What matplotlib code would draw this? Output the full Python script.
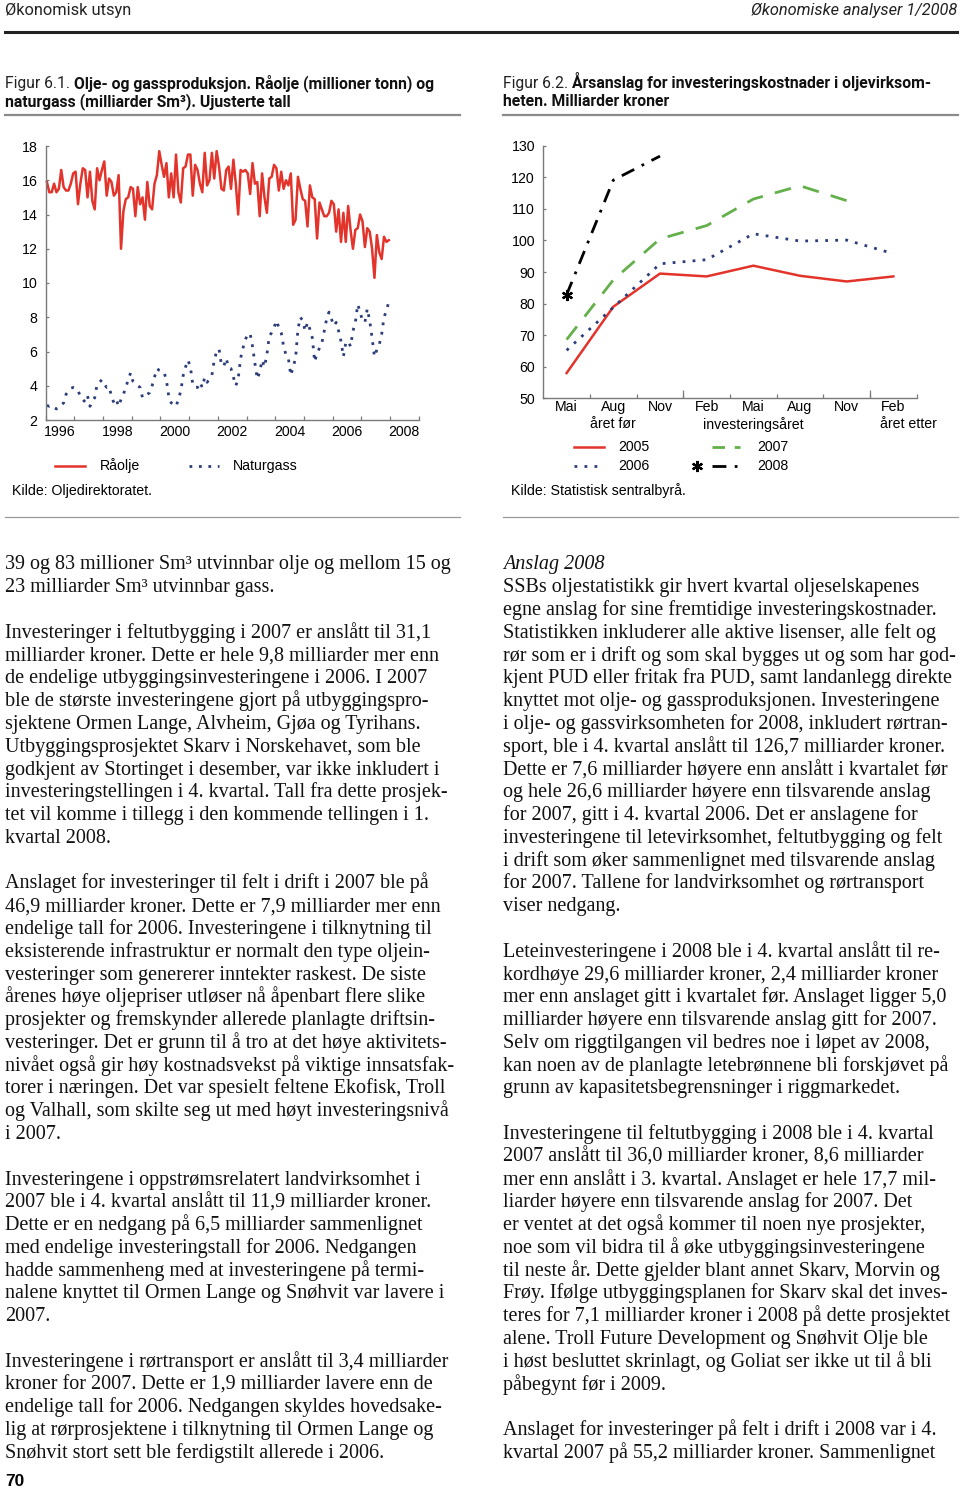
import matplotlib
matplotlib.use('Agg')
import matplotlib.pyplot as plt
from matplotlib import font_manager
from matplotlib.lines import Line2D
import numpy as np

# ---------------- data ----------------
year_labels = ['1996', '1998', '2000', '2002', '2004', '2006', '2008']
first_year = 1996
oil = [15.9, 15.3, 15.3, 15.8, 15.3, 15.5, 16.6, 15.6, 15.4, 15.4, 15.8, 16.4,
       16.5, 14.6, 15.8, 16.7, 16.6, 15.0, 16.5, 14.8, 14.3, 16.7, 16.0, 16.6,
       17.1, 15.1, 16.1, 15.9, 15.1, 15.3, 16.3, 12.0, 14.2, 14.9, 15.0, 15.6,
       15.5, 13.9, 15.6, 14.6, 15.0, 13.7, 15.9, 14.5, 14.3, 15.8, 16.3, 17.7,
       16.9, 16.2, 17.0, 15.0, 16.4, 15.0, 17.5, 15.3, 14.7, 16.7, 16.8, 17.5,
       17.5, 15.1, 16.9, 16.6, 15.8, 15.3, 17.6, 15.7, 16.0, 17.6, 16.1, 17.7,
       16.8, 15.5, 15.4, 16.6, 16.8, 15.5, 17.2, 15.8, 14.0, 16.6, 16.5, 16.6,
       16.4, 15.2, 17.0, 15.8, 15.9, 13.9, 16.4, 15.0, 14.1, 16.1, 16.2, 16.9,
       16.7, 15.4, 16.5, 15.5, 16.0, 15.7, 16.4, 13.4, 13.7, 16.2, 15.5, 14.9,
       14.8, 13.3, 15.7, 15.0, 14.9, 12.6, 14.7, 14.3, 13.9, 13.9, 14.1, 14.8,
       14.6, 13.0, 14.3, 12.4, 14.1, 12.4, 14.5, 13.1, 12.0, 13.1, 13.2, 14.0,
       13.6, 12.1, 13.2, 13.0, 12.0, 10.3, 12.8, 11.8, 11.4, 12.7, 12.4, 12.5]
gas = [2.85, 2.8, 2.85, 2.7, 2.65, 2.7, 2.85, 3.0, 3.5, 3.7, 3.85, 3.9,
       3.85, 3.75, 3.35, 3.2, 3.05, 3.4, 2.8, 3.1, 3.3, 4.1, 4.2, 4.35,
       4.1, 3.9, 3.95, 3.4, 3.0, 3.2, 2.8, 3.2, 3.5, 3.9, 4.35, 4.75,
       4.25, 4.1, 4.0, 3.9, 3.3, 3.4, 3.5, 3.6, 4.0, 4.5, 5.0, 4.9,
       4.85, 4.8, 4.3, 3.35, 3.0, 2.9, 2.8, 3.2, 3.7, 4.6, 5.1, 5.5,
       5.1, 4.1, 3.9, 3.9, 4.2, 3.9, 4.5, 4.2, 4.4, 4.6, 5.5, 6.0,
       6.15, 5.2, 5.15, 5.6, 5.05, 5.0, 4.5, 4.0, 4.4, 5.6, 6.2, 6.7,
       7.0, 7.05, 6.3, 5.3, 4.4, 4.8, 5.5, 5.1, 5.8, 6.9, 7.1, 7.4,
       7.8, 7.4, 7.1, 6.3, 5.8, 5.6, 4.6, 5.1, 5.6, 7.3, 8.0, 7.8,
       7.2, 7.7, 7.3, 6.8, 5.4, 5.9, 6.2, 6.5, 7.2, 7.9, 8.3, 7.9,
       7.5, 7.7, 7.2, 6.6, 5.7, 6.5, 6.6, 6.3, 7.2, 7.7, 8.75, 8.3,
       7.8, 7.7, 8.5, 7.8, 6.8, 5.7, 6.1, 6.4, 7.0, 8.0, 8.4, 8.9]

periods = ['Mai', 'Aug', 'Nov', 'Feb', 'Mai', 'Aug', 'Nov', 'Feb']
period_groups = {1: 'året før', 4: 'investeringsåret', 7: 'året etter'}
inv2005 = [58.0, 79.0, 89.5, 88.6, 92.0, 88.8, 87.0, 88.6]
inv2006 = [65.2, 78.8, 92.6, 93.9, 102.1, 99.8, 100.1, 95.8]
inv2007 = [68.6, 87.5, 100.5, 104.7, 113.1, 117.3, 112.6]
inv2008 = [82.8, 119.1, 126.7]

left_lines = [
    "39 og 83 millioner Sm³ utvinnbar olje og mellom 15 og",
    "23 milliarder Sm³ utvinnbar gass.",
    "",
    "Investeringer i feltutbygging i 2007 er anslått til 31,1",
    "milliarder kroner. Dette er hele 9,8 milliarder mer enn",
    "de endelige utbyggingsinvesteringene i 2006. I 2007",
    "ble de største investeringene gjort på utbyggingspro-",
    "sjektene Ormen Lange, Alvheim, Gjøa og Tyrihans.",
    "Utbyggingsprosjektet Skarv i Norskehavet, som ble",
    "godkjent av Stortinget i desember, var ikke inkludert i",
    "investeringstellingen i 4. kvartal. Tall fra dette prosjek-",
    "tet vil komme i tillegg i den kommende tellingen i 1.",
    "kvartal 2008.",
    "",
    "Anslaget for investeringer til felt i drift i 2007 ble på",
    "46,9 milliarder kroner. Dette er 7,9 milliarder mer enn",
    "endelige tall for 2006. Investeringene i tilknytning til",
    "eksisterende infrastruktur er normalt den type oljein-",
    "vesteringer som genererer inntekter raskest. De siste",
    "årenes høye oljepriser utløser nå åpenbart flere slike",
    "prosjekter og fremskynder allerede planlagte driftsin-",
    "vesteringer. Det er grunn til å tro at det høye aktivitets-",
    "nivået også gir høy kostnadsvekst på viktige innsatsfak-",
    "torer i næringen. Det var spesielt feltene Ekofisk, Troll",
    "og Valhall, som skilte seg ut med høyt investeringsnivå",
    "i 2007.",
    "",
    "Investeringene i oppstrømsrelatert landvirksomhet i",
    "2007 ble i 4. kvartal anslått til 11,9 milliarder kroner.",
    "Dette er en nedgang på 6,5 milliarder sammenlignet",
    "med endelige investeringstall for 2006. Nedgangen",
    "hadde sammenheng med at investeringene på termi-",
    "nalene knyttet til Ormen Lange og Snøhvit var lavere i",
    "2007.",
    "",
    "Investeringene i rørtransport er anslått til 3,4 milliarder",
    "kroner for 2007. Dette er 1,9 milliarder lavere enn de",
    "endelige tall for 2006. Nedgangen skyldes hovedsake-",
    "lig at rørprosjektene i tilknytning til Ormen Lange og",
    "Snøhvit stort sett ble ferdigstilt allerede i 2006.",
]
right_lines = [
    "Anslag 2008",
    "SSBs oljestatistikk gir hvert kvartal oljeselskapenes",
    "egne anslag for sine fremtidige investeringskostnader.",
    "Statistikken inkluderer alle aktive lisenser, alle felt og",
    "rør som er i drift og som skal bygges ut og som har god-",
    "kjent PUD eller fritak fra PUD, samt landanlegg direkte",
    "knyttet mot olje- og gassproduksjonen. Investeringene",
    "i olje- og gassvirksomheten for 2008, inkludert rørtran-",
    "sport, ble i 4. kvartal anslått til 126,7 milliarder kroner.",
    "Dette er 7,6 milliarder høyere enn anslått i kvartalet før",
    "og hele 26,6 milliarder høyere enn tilsvarende anslag",
    "for 2007, gitt i 4. kvartal 2006. Det er anslagene for",
    "investeringene til letevirksomhet, feltutbygging og felt",
    "i drift som øker sammenlignet med tilsvarende anslag",
    "for 2007. Tallene for landvirksomhet og rørtransport",
    "viser nedgang.",
    "",
    "Leteinvesteringene i 2008 ble i 4. kvartal anslått til re-",
    "kordhøye 29,6 milliarder kroner, 2,4 milliarder kroner",
    "mer enn anslaget gitt i kvartalet før. Anslaget ligger 5,0",
    "milliarder høyere enn tilsvarende anslag gitt for 2007.",
    "Selv om riggtilgangen vil bedres noe i løpet av 2008,",
    "kan noen av de planlagte letebrønnene bli forskjøvet på",
    "grunn av kapasitetsbegrensninger i riggmarkedet.",
    "",
    "Investeringene til feltutbygging i 2008 ble i 4. kvartal",
    "2007 anslått til 36,0 milliarder kroner, 8,6 milliarder",
    "mer enn anslått i 3. kvartal. Anslaget er hele 17,7 mil-",
    "liarder høyere enn tilsvarende anslag for 2007. Det",
    "er ventet at det også kommer til noen nye prosjekter,",
    "noe som vil bidra til å øke utbyggingsinvesteringene",
    "til neste år. Dette gjelder blant annet Skarv, Morvin og",
    "Frøy. Ifølge utbyggingsplanen for Skarv skal det inves-",
    "teres for 7,1 milliarder kroner i 2008 på dette prosjektet",
    "alene. Troll Future Development og Snøhvit Olje ble",
    "i høst besluttet skrinlagt, og Goliat ser ikke ut til å bli",
    "påbegynt før i 2009.",
    "",
    "Anslaget for investeringer på felt i drift i 2008 var i 4.",
    "kvartal 2007 på 55,2 milliarder kroner. Sammenlignet",
]

# ---------------- fonts ----------------
installed = {f.name for f in font_manager.fontManager.ttflist}
def pick(names):
    for n in names:
        if n in installed:
            return n
    return 'DejaVu Sans'
SANS = pick(['Liberation Sans', 'Arimo', 'DejaVu Sans'])
NARROW = pick(['Liberation Sans Narrow', 'Roboto', 'Open Sans', 'Liberation Sans'])
SERIF = pick(['Liberation Serif', 'DejaVu Serif'])
plt.rcParams['font.family'] = [SANS, 'DejaVu Sans']

W, H = 960, 1492
fig = plt.figure(figsize=(9.6, 14.92), dpi=100)
fig.patch.set_facecolor('white')
R = fig.canvas.get_renderer()

def fxy(x, y):
    return x / W, 1 - y / H

def twidth(s, **kw):
    t = fig.text(0, 0, s, **kw)
    w = t.get_window_extent(R).width
    t.remove()
    return w

def fit(s, target, **kw):
    return 12 * target / twidth(s, fontsize=12, **kw)

def put(x, y, s, **kw):
    return fig.text(*fxy(x, y), s, **kw)

def hline(x0, x1, y, **kw):
    fig.add_artist(Line2D([x0 / W, x1 / W], [1 - y / H] * 2,
                          transform=fig.transFigure, **kw))

# ---------------- header ----------------
hsize = fit("Økonomisk utsyn", 126, family=NARROW)
put(5, 11, "Økonomisk utsyn", family=NARROW, fontsize=hsize, va='center', color='#222')
put(957, 11, "Økonomiske analyser 1/2008", family=NARROW, style='italic',
    fontsize=hsize, va='center', ha='right', color='#222')
hline(5, 957, 32, color='#222', lw=2.2)

# captions
def caption(x, y, light, bold, size):
    t1 = put(x, y, light, family=NARROW, fontsize=size, va='baseline', color='#222')
    w1 = t1.get_window_extent(R).width
    sp = twidth("x x", family=NARROW, fontsize=size) - twidth("xx", family=NARROW, fontsize=size)
    put(x + w1 + sp, y, bold, family=NARROW, fontsize=size, weight='bold', va='baseline', color='#111')

cap_full = "Figur 6.1. Olje- og gassproduksjon. Råolje (millioner tonn) og"
csize = fit(cap_full, 430, family=NARROW, weight='bold') * 1.0
caption(5, 88, "Figur 6.1.", "Olje- og gassproduksjon. Råolje (millioner tonn) og", csize)
put(5, 106, "naturgass (milliarder Sm³). Ujusterte tall", family=NARROW, fontsize=csize,
    weight='bold', va='baseline', color='#111')
caption(503, 88, "Figur 6.2.", "Årsanslag for investeringskostnader i oljevirksom-", csize)
put(503, 106, "heten. Milliarder kroner", family=NARROW, fontsize=csize,
    weight='bold', va='baseline', color='#111')
hline(5, 460, 115, color='#8a8a8a', lw=1.6)
hline(503, 958, 115, color='#8a8a8a', lw=1.6)
hline(5, 460, 517, color='#9a9a9a', lw=0.9)
hline(503, 958, 517, color='#9a9a9a', lw=0.9)

# ---------------- chart 1 ----------------
FS = 10.2
RED = '#e3342c'
NAVY = '#2c3d7a'
GREEN = '#63b04b'
axL = fig.add_axes([45.7 / W, 1 - 420 / H, (418.7 - 45.7) / W, (420 - 146) / H])
months = first_year + (np.arange(len(oil)) + 0.5) / 12
axL.plot(months, oil, color=RED, lw=1.8, clip_on=False)
axL.plot(months, gas, color=NAVY, lw=2.0, ls=(0, (1, 2.4)), clip_on=False)
axL.set_xlim(first_year, first_year + 13)
axL.set_ylim(2, 18)
axL.set_yticks(range(2, 19, 2))
axL.set_xticks(range(first_year, first_year + 14))
axL.set_xticklabels([])
axL.set_xticks(first_year + 0.5 + 2 * np.arange(len(year_labels)), minor=True)
axL.set_xticklabels(year_labels, minor=True)

def style_axes(ax):
    for s in ['top', 'right']:
        ax.spines[s].set_visible(False)
    for s in ['left', 'bottom']:
        ax.spines[s].set_color('#7a7a7a')
        ax.spines[s].set_linewidth(1.0)
    ax.tick_params(axis='y', direction='in', length=2.5, width=0.9, color='#7a7a7a',
                   pad=6, labelsize=FS)
    ax.tick_params(axis='x', which='major', direction='in', length=3, width=0.9,
                   color='#7a7a7a', labelsize=FS)
    ax.tick_params(axis='x', which='minor', length=0, labelsize=FS)
    for t in ax.get_xticklabels(which='both') + ax.get_yticklabels():
        t.set_fontfamily(SANS)
    ax.patch.set_alpha(0)

style_axes(axL)
axL.tick_params(axis='x', which='minor', pad=3.5)

# legend 1
hline(55, 85, 466, color=RED, lw=1.8)
hline(189, 219, 466, color=NAVY, lw=2.0, ls=(0, (1, 2.4)))
put(100, 466, "Råolje", family=SANS, fontsize=FS, va='center')
put(233, 466, "Naturgass", family=SANS, fontsize=FS, va='center')
put(12, 491, "Kilde: Oljedirektoratet.", family=SANS, fontsize=FS, va='center')

# ---------------- chart 2 ----------------
axR = fig.add_axes([543.3 / W, 1 - 398.3 / H, (916.7 - 543.3) / W, (398.3 - 145.7) / H])
xs = np.arange(len(periods))
axR.plot(xs[:len(inv2005)], inv2005, color=RED, lw=1.8)
axR.plot(xs[:len(inv2006)], inv2006, color=NAVY, lw=2.0, ls=(0, (1, 2.6)))
axR.plot(xs[:len(inv2007)], inv2007, color=GREEN, lw=2.0, ls=(0, (6, 4.5)))
axR.plot(xs[:len(inv2008)], inv2008, color='black', lw=2.0, ls=(0, (5, 3, 1, 3)),
         marker=(6, 2, 0), markersize=8, mew=1.6, markevery=[0])
axR.set_xlim(-0.5, len(periods) - 0.5)
axR.set_ylim(50, 130)
axR.set_yticks(range(50, 131, 10))
axR.set_xticks(np.arange(len(periods)) + 0.5)
axR.set_xticklabels([])
axR.set_xticks(xs, minor=True)
axR.set_xticklabels(periods, minor=True)
style_axes(axR)
axR.tick_params(axis='x', which='minor', pad=1.2)
sec = axR.secondary_xaxis('bottom')
sec.set_xticks([2.5, 6.5])
sec.set_xticklabels([])
sec.tick_params(direction='in', length=6, width=0.9, color='#7a7a7a')
sec.spines['bottom'].set_visible(False)
for i, lab in period_groups.items():
    if i == len(periods) - 1:
        axR.annotate(lab, xy=(i, 0), xycoords=('data', 'axes fraction'),
                     xytext=(-9.5, -13.8), textcoords='offset points', ha='left', va='top',
                     family=SANS, fontsize=FS)
    else:
        axR.annotate(lab, xy=(i, 0), xycoords=('data', 'axes fraction'),
                     xytext=(0, -13.8), textcoords='offset points', ha='center', va='top',
                     family=SANS, fontsize=FS)

# legend 2
hline(574, 604, 447, color=RED, lw=1.8)
hline(574, 604, 466, color=NAVY, lw=2.0, ls=(0, (1, 2.6)))
hline(712, 740, 447, color=GREEN, lw=2.0, ls=(0, (4.5, 3.5)))
hline(712, 742, 466, color='black', lw=2.0, ls=(0, (5, 3, 1, 3)))
fig.add_artist(Line2D([697 / W], [1 - 466 / H], transform=fig.transFigure, color='black',
                      marker=(6, 2, 0), markersize=8, mew=1.6, ls='none'))
put(618, 447, "2005", family=SANS, fontsize=FS, va='center')
put(618, 466, "2006", family=SANS, fontsize=FS, va='center')
put(757, 447, "2007", family=SANS, fontsize=FS, va='center')
put(757, 466, "2008", family=SANS, fontsize=FS, va='center')
put(511, 491, "Kilde: Statistisk sentralbyrå.", family=SANS, fontsize=FS, va='center')

# ---------------- body text ----------------
bsize = fit("de endelige utbyggingsinvesteringene i 2006. I 2007", 421, family=SERIF)
base0, pitch = 569.5, 22.78
for k, s in enumerate(left_lines):
    if s:
        put(5, base0 + k * pitch, s, family=SERIF, fontsize=bsize, va='baseline', color='#111')
for k, s in enumerate(right_lines):
    if s:
        kw = dict(style='italic') if k == 0 else {}
        put(503, base0 + k * pitch, s, family=SERIF, fontsize=bsize, va='baseline',
            color='#111', **kw)

put(5, 1482, "70", family=SANS, fontsize=12.5, weight='bold', va='center')

fig.savefig('out.png', dpi=100)
